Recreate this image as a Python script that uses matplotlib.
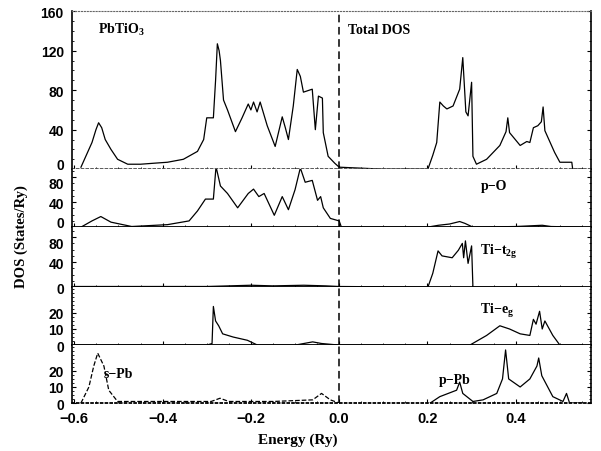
import matplotlib.pyplot as plt
from matplotlib.ticker import AutoMinorLocator

plt.rcParams['mathtext.default'] = 'regular'

# total DOS
tot_e = [-0.585, -0.575, -0.560, -0.551, -0.545, -0.538, -0.530, -0.517, -0.502, -0.479, -0.450,
         -0.420, -0.389, -0.353, -0.321, -0.307, -0.300, -0.285, -0.280, -0.276, -0.272, -0.269,
         -0.262, -0.253, -0.235, -0.220, -0.206, -0.200, -0.194, -0.186, -0.179, -0.163, -0.145,
         -0.129, -0.122, -0.115, -0.104, -0.095, -0.088, -0.081, -0.061, -0.054, -0.047, -0.038,
         -0.036, -0.025, -0.010, 0.000, 0.100, 0.201, 0.212, 0.221, 0.228, 0.236, 0.244, 0.258,
         0.273, 0.280, 0.287, 0.292, 0.300, 0.303, 0.311, 0.334, 0.364, 0.378, 0.382, 0.386,
         0.410, 0.425, 0.432, 0.440, 0.450, 0.458, 0.462, 0.466, 0.475, 0.488, 0.500, 0.527,
         0.529, 0.550]
tot_d = [2, 12, 27, 40, 47, 42, 30, 20, 10, 5, 5, 6, 7, 10, 18, 30, 52, 52, 90, 127, 120, 110,
         70, 60, 38, 52, 66, 60, 68, 58, 68, 44, 23, 53, 42, 30, 64, 101, 94, 78, 81, 40, 74, 72,
         37, 13, 6, 2, 0, 0, 14, 27, 68, 64, 61, 64, 81, 113, 58, 54, 88, 13, 5, 10, 24, 38, 52,
         37, 24, 28, 27, 42, 44, 48, 63, 39, 30, 17, 7, 7, 0, 0]

# p-O
po_e = [-0.585, -0.560, -0.540, -0.517, -0.470, -0.389, -0.340, -0.321, -0.303, -0.285, -0.279,
        -0.269, -0.253, -0.230, -0.206, -0.194, -0.182, -0.170, -0.147, -0.129, -0.115, -0.100,
        -0.088, -0.077, -0.061, -0.049, -0.042, -0.036, -0.020, 0.000, 0.005, 0.200, 0.225,
        0.250, 0.273, 0.285, 0.303, 0.400, 0.460, 0.480, 0.550]
po_d = [0, 10, 17, 8, 1, 4, 10, 26, 45, 45, 97, 66, 54, 31, 54, 61, 49, 54, 19, 49, 28, 60, 95,
        72, 75, 43, 49, 31, 14, 10, 0, 0, 3, 5, 9, 6, 0, 1, 3, 1, 0]

# Ti-t2g
t2g_e = [-0.600, -0.300, -0.200, -0.150, -0.080, -0.030, 0.000, 0.201, 0.212, 0.224, 0.233,
         0.256, 0.270, 0.279, 0.282, 0.286, 0.292, 0.300, 0.303, 0.550]
t2g_d = [1, 1, 3, 2, 3, 2, 1, 0, 22, 58, 50, 47, 59, 70, 47, 74, 38, 66, 0, 0]

# Ti-eg
eg_e = [-0.600, -0.300, -0.288, -0.285, -0.280, -0.273, -0.264, -0.240, -0.208, -0.185, -0.100,
        -0.060, -0.040, 0.000, 0.296, 0.334, 0.364, 0.386, 0.410, 0.432, 0.440, 0.446, 0.454,
        0.460, 0.466, 0.484, 0.500, 0.550]
eg_d = [0, 0, 1, 24, 15, 12, 7, 5, 3, 0, 0, 2, 1, 0, 0, 6, 12, 10, 7, 6, 16, 13, 21, 10, 15, 6,
        0, 0]

# s-Pb (dashed)
spb_e = [-0.585, -0.567, -0.556, -0.547, -0.533, -0.522, -0.502, -0.400, -0.290, -0.270, -0.250,
         -0.150, -0.060, -0.040, -0.020, 0.000]
spb_d = [0, 10, 23, 31, 23, 8, 1, 1, 1, 3, 1, 1, 2, 6, 2, 0]

# p-Pb
ppb_e = [0.206, 0.228, 0.266, 0.273, 0.280, 0.303, 0.326, 0.357, 0.370, 0.377, 0.384, 0.410,
         0.432, 0.448, 0.452, 0.459, 0.484, 0.507, 0.515, 0.522, 0.550]
ppb_d = [0, 4, 8, 13, 6, 1, 2, 6, 15, 33, 15, 10, 15, 23, 28, 17, 4, 1, 6, 0, 0]

x_ticks = [-0.6, -0.4, -0.2, 0.0, 0.2, 0.4]
x_labels = ['\u22120.6', '\u22120.4', '\u22120.2', '0.0', '0.2', '0.4']

panels = [
    ([(tot_e, tot_d, '-')], [0, 40, 80, 120, 160], 160),
    ([(po_e, po_d, '-')], [0, 40, 80], 93),
    ([(t2g_e, t2g_d, '-')], [0, 40, 80], 96),
    ([(eg_e, eg_d, '-')], [0, 10, 20], 36),
    ([(spb_e, spb_d, '--'), (ppb_e, ppb_d, '-')], [0, 10, 20], 36),
]

serif = dict(family='Liberation Serif', weight='bold')

fig, axes = plt.subplots(5, 1, sharex=True, figsize=(6.01, 4.52), dpi=100,
                         gridspec_kw=dict(height_ratios=[158, 58, 60, 58, 58], hspace=0))
fig.subplots_adjust(left=0.12, right=0.983, top=0.973, bottom=0.106)

for i, (ax, (curves, yt, ytop)) in enumerate(zip(axes, panels)):
    for e, d, ls in curves:
        ax.plot(e, d, color='k', lw=0.9, ls=ls)
    ax.axvline(0, color='k', ls=(0, (5, 3)), lw=1.1)
    ax.set_ylim(0, ytop)
    ax.set_yticks(yt)
    ax.set_xlim(-0.605, 0.57)
    ax.tick_params(direction='in', length=3, width=0.8, labelsize=10, right=True, top=False,
                   pad=6)
    ax.yaxis.set_minor_locator(AutoMinorLocator(4))
    ax.tick_params(which='minor', direction='in', length=1.5, right=True)
    labs = ax.get_yticklabels()
    for lab in labs:
        lab.set_fontweight('bold')
        lab.set_family('Liberation Sans')
    # stacked panels: the 0 of one panel sits just above the top label of the next
    if i < 2:
        labs[0].set_va('baseline')
    if i in (1, 2):
        labs[-1].set_va('top')
    ax.spines['left'].set_linewidth(1.2)
    ax.spines['right'].set_linewidth(1.2)
    ax.spines['bottom'].set_linewidth(1.3)
    if i == 0:
        ax.spines['top'].set_linestyle(':')
        ax.spines['top'].set_color('0.4')
        ax.spines['bottom'].set_linestyle(':')
        ax.spines['bottom'].set_color('0.3')
    else:
        ax.spines['top'].set_visible(False)

bot = axes[-1]
bot.set_xticks(x_ticks)
bot.xaxis.set_minor_locator(AutoMinorLocator(4))
bot.tick_params(axis='x', which='both', direction='in', top=False, pad=6)
bot.spines['bottom'].set_linestyle(':')
bot.set_xticklabels(x_labels, fontsize=10.5, fontweight='bold', family='Liberation Sans')

axes[0].text(0.05, 0.86, 'PbTiO$_3$', transform=axes[0].transAxes, fontsize=10, **serif)
axes[0].text(0.02, 0.86, 'Total DOS', transform=axes[0].get_xaxis_transform(), fontsize=10,
             **serif)
axes[1].text(0.32, 0.65, 'p\u2212O', transform=axes[1].get_xaxis_transform(), fontsize=10,
             **serif)
axes[2].text(0.32, 0.55, 'Ti\u2212t$_{2g}$', transform=axes[2].get_xaxis_transform(),
             fontsize=10, **serif)
axes[3].text(0.32, 0.55, 'Ti\u2212e$_{g}$', transform=axes[3].get_xaxis_transform(),
             fontsize=10, **serif)
axes[4].text(-0.533, 0.45, 's\u2212Pb', transform=axes[4].get_xaxis_transform(), fontsize=10,
             **serif)
axes[4].text(0.225, 0.35, 'p\u2212Pb', transform=axes[4].get_xaxis_transform(), fontsize=10,
             **serif)

fig.text(0.036, 0.476, 'DOS (States/Ry)', rotation=90, ha='center', va='center',
         fontsize=10.5, **serif)
fig.text(0.496, 0.027, 'Energy (Ry)', ha='center', va='center', fontsize=11, **serif)

fig.savefig('out.png', dpi=100)
